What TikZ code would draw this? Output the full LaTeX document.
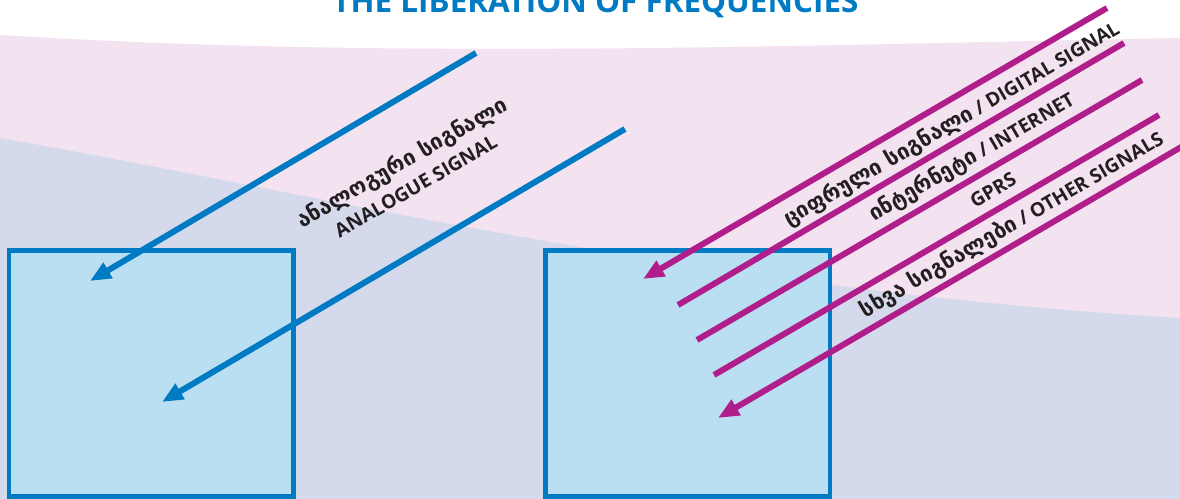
\documentclass[tikz,border=0pt]{standalone}
\usepackage{fontspec}
\setmainfont{Open Sans}
\newfontfamily\geofont{DejaVu Sans}
\newcommand\geotxt[1]{{\geofont\fontsize{12.3}{15.5}\selectfont #1}}
\usetikzlibrary{arrows.meta,positioning}
\definecolor{sigblue}{RGB}{0,123,195}
\definecolor{sigmag}{RGB}{176,30,140}
\definecolor{pinkbg}{RGB}{243,226,240}
\definecolor{lavbg}{RGB}{213,217,236}
\definecolor{boxfill}{RGB}{186,223,243}
\definecolor{inkgray}{RGB}{35,31,32}
\tikzstyle{box}=[draw=sigblue,fill=boxfill,line width=2.55pt,minimum width=5.69cm,minimum height=4.92cm,inner sep=0pt]
\tikzstyle{lbl}=[text=inkgray,font=\bfseries\fontsize{11}{15.5}\selectfont,rotate=30.3,inner sep=0pt]
\tikzstyle{ttl}=[text=sigblue,font=\bfseries\fontsize{17.9}{20}\selectfont,inner sep=0pt]
\tikzstyle{asig}=[draw=sigblue,line width=3.4pt]
\tikzstyle{dsig}=[draw=sigmag,line width=3.4pt]

\begin{document}
\begin{tikzpicture}[
      x=0.02cm, y=-0.02cm,
      >={Triangle[length=0.42cm,width=0.34cm]}
    ]
      \useasboundingbox (0,0) rectangle (1180,499);
      \clip (0,0) rectangle (1180,499);

      % background bands
      \fill[pinkbg] (0,35) .. controls (400,60) and (800,45) .. (1180,38) -- (1180,499) -- (0,499) -- cycle;
      \fill[lavbg] (0,138) .. controls (300,190) and (700,290) .. (1180,318) -- (1180,499) -- (0,499) -- cycle;

      \node [ttl,anchor=base] (title) at (595.5,13) {THE LIBERATION OF FREQUENCIES};

      \node [box] (ab) at (151.25,373.5) {};
      \node [box] (db) at (687.75,373.5) {};

      % analogue
      \coordinate (a1) at (476,53);   \coordinate (a1e) at (90,281);
      \coordinate (a2) at (625,129);  \coordinate (a2e) at (162,402);
      \draw[asig,->] (a1) -- (a1e);
      \draw[asig,->] (a2) -- (a2e);
      \node [lbl,rotate=-0.3,align=center] (an) at (408,173) {\geotxt{ანალოგური სიგნალი}\\ANALOGUE SIGNAL};

      % digital
      \coordinate (d1) at (1107,8);   \coordinate (d1e) at (643,279);
      \coordinate (d2) at (1124,43);  \coordinate (d2e) at (678,305);
      \coordinate (d3) at (1142,80);  \coordinate (d3e) at (697,340);
      \coordinate (d4) at (1159,115); \coordinate (d4e) at (714,375);
      \coordinate (d5) at (1200,136); \coordinate (d5e) at (718,418);
      \draw[dsig,->] (d1) -- (d1e);
      \draw[dsig] (d2) -- (d2e);
      \draw[dsig] (d3) -- (d3e);
      \draw[dsig] (d4) -- (d4e);
      \draw[dsig,->] (d5) -- (d5e);

      \node [lbl] (dg) at (952,124) {\geotxt{ციფრული სიგნალი} / DIGITAL SIGNAL};
      \node [lbl] (in) at (972,157) {\geotxt{ინტერნეტი} / INTERNET};
      \node [lbl] (gp) at (993,190) {GPRS};
      \node [lbl] (ot) at (1012,225) {\geotxt{სხვა სიგნალები} / OTHER SIGNALS};
\end{tikzpicture}
\end{document}
